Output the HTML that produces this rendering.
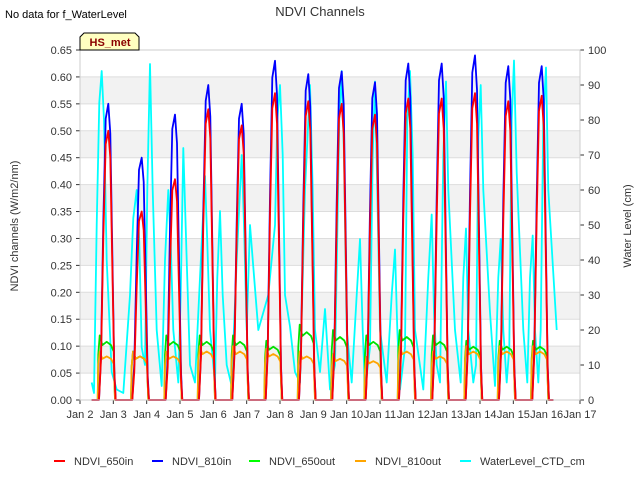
<!DOCTYPE html>
<html><head><meta charset="utf-8"><style>
body{margin:0;background:#fff;font-family:"Liberation Sans",sans-serif}
svg text{font-family:"Liberation Sans",sans-serif}
</style></head><body>
<svg id="c" width="640" height="480" xmlns="http://www.w3.org/2000/svg">
<rect width="640" height="480" fill="#fff"/>
<g id="bands"></g>
<g id="grid"></g>
<g id="series"></g>
<g id="axes"></g>
<text x="320" y="16" text-anchor="middle" font-size="13" fill="#333">NDVI Channels</text>
<text x="5" y="18" font-size="11" fill="#000">No data for f_WaterLevel</text>
<g>
<path d="M80,50 L80,37 L84,33 L135,33 L139,37 L139,50 Z" fill="#ffffc0" stroke="#000" stroke-width="1"/>
<text x="110" y="46" text-anchor="middle" font-size="11" font-weight="bold" fill="#8b0000">HS_met</text>
</g>
<text transform="translate(18,226) rotate(-90)" text-anchor="middle" font-size="11" fill="#333">NDVI channels (W/m2/nm)</text>
<text transform="translate(631,226) rotate(-90)" text-anchor="middle" font-size="11" fill="#333">Water Level (cm)</text>
<g id="legend"></g>
</svg>
<script>
const xTicks=["Jan 2","Jan 3","Jan 4","Jan 5","Jan 6","Jan 7","Jan 8","Jan 9","Jan 10","Jan 11","Jan 12","Jan 13","Jan 14","Jan 15","Jan 16","Jan 17"];
const yTicks=[0,0.05,0.1,0.15,0.2,0.25,0.3,0.35,0.4,0.45,0.5,0.55,0.6,0.65];
const y2Ticks=[0,10,20,30,40,50,60,70,80,90,100];
const peakDays=[2.85,3.85,4.85,5.85,6.85,7.85,8.85,9.85,10.85,11.85,12.85,13.85,14.85,15.85];
const peak810in=[0.55,0.45,0.53,0.585,0.55,0.63,0.605,0.61,0.59,0.625,0.625,0.64,0.62,0.62];
const peak650in=[0.50,0.35,0.41,0.54,0.51,0.57,0.555,0.55,0.53,0.56,0.56,0.57,0.555,0.565];
const peak650out=[0.12,0.09,0.12,0.12,0.12,0.11,0.14,0.13,0.12,0.13,0.12,0.11,0.11,0.11];
const peak810out=[0.09,0.09,0.09,0.10,0.10,0.095,0.09,0.085,0.08,0.10,0.09,0.10,0.10,0.10];
const wlDays=[2.35,2.42,2.5,2.58,2.65,2.72,2.8,2.95,3.1,3.3,3.5,3.6,3.7,3.78,3.85,3.95,4.02,4.1,4.18,4.3,4.45,4.55,4.65,4.72,4.8,4.95,5.02,5.1,5.2,5.3,5.45,5.6,5.75,5.82,5.9,6.05,6.12,6.2,6.28,6.4,6.55,6.7,6.85,6.92,7.0,7.1,7.2,7.35,7.65,7.85,7.92,8.0,8.08,8.15,8.3,8.45,8.6,8.75,8.9,8.98,9.05,9.2,9.35,9.5,9.65,9.78,9.85,9.92,10.0,10.15,10.3,10.4,10.48,10.55,10.7,10.78,10.85,10.92,11.0,11.2,11.35,11.45,11.52,11.6,11.75,11.82,11.9,11.98,12.05,12.3,12.45,12.55,12.62,12.7,12.8,12.9,12.98,13.05,13.25,13.42,13.5,13.58,13.65,13.8,13.88,13.95,14.02,14.1,14.3,14.45,14.55,14.62,14.7,14.8,14.88,14.95,15.02,15.1,15.3,15.42,15.5,15.58,15.65,15.75,15.82,15.9,15.98,16.05,16.3];
const wlVals=[5,2,50,85,94,80,40,8,3,2,30,52,60,45,15,10,60,96,60,20,4,40,60,45,20,5,30,72,40,10,5,35,64,45,20,5,35,54,30,10,4,40,70,50,20,50,38,20,30,50,80,90,70,30,21,8,5,60,90,60,20,8,26,3,10,80,94,70,20,5,30,46,20,3,15,70,91,60,20,5,30,43,20,3,15,80,94,70,20,3,35,53,25,10,5,70,91,60,20,5,35,49,20,5,10,75,90,60,25,4,35,46,20,5,15,80,97,65,20,5,35,47,20,5,20,80,95,60,20,4];
const X0=80,X1=580,Y0=400,Y1=50;
const xs=d=>X0+(d-2)/15*(X1-X0);
const ys=v=>Y0-v/0.65*(Y0-Y1);
const y2s=v=>Y0-v/100*(Y0-Y1);
const NS="http://www.w3.org/2000/svg";
function mk(t,a,p){const e=document.createElementNS(NS,t);for(const k in a)e.setAttribute(k,a[k]);p.appendChild(e);return e;}
const bands=document.getElementById('bands'),grid=document.getElementById('grid'),axes=document.getElementById('axes'),ser=document.getElementById('series'),leg=document.getElementById('legend');
for(let i=1;i<13;i+=2){const r=mk('rect',{x:X0,y:ys(yTicks[i+1]),width:X1-X0,height:ys(yTicks[i])-ys(yTicks[i+1]),fill:'#f2f2f2'},bands);

}
yTicks.forEach(v=>{const l=mk('line',{x1:X0,x2:X1,y1:ys(v),y2:ys(v),stroke:'#ddd','stroke-width':1},grid);


const t=mk('text',{x:X0-8,y:ys(v)+4,'text-anchor':'end','font-size':11,fill:'#333'},axes);t.textContent=v.toFixed(2);


mk('line',{x1:X0-4,x2:X0,y1:ys(v),y2:ys(v),stroke:'#333'},axes);});
y2Ticks.forEach(v=>{const t=mk('text',{x:X1+8,y:y2s(v)+4,'font-size':11,fill:'#333'},axes);t.textContent=v;


mk('line',{x1:X1,x2:X1+4,y1:y2s(v),y2:y2s(v),stroke:'#333'},axes);});
xTicks.forEach((s,i)=>{const x=xs(2+i);mk('line',{x1:x,x2:x,y1:Y0,y2:Y0+4,stroke:'#333'},axes);
const t=mk('text',{x:x,y:Y0+18,'text-anchor':'middle','font-size':11,fill:'#333'},axes);t.textContent=s;

});
mk('rect',{x:X0,y:Y1,width:X1-X0,height:Y0-Y1,fill:'none',stroke:'#ccc'},axes);
const inShape=[[-0.28,0],[-0.22,0.15],[-0.15,0.6],[-0.08,0.95],[0,1],[0.06,0.9],[0.12,0.5],[0.18,0.1],[0.22,0]];
const outShape=[[-0.32,0],[-0.3,0.7],[-0.26,1],[-0.18,0.85],[-0.05,0.9],[0.08,0.85],[0.16,0.75],[0.2,0]];
function ndviPath(peaks,shape){let p=`M${xs(2.35)},${ys(0)}`;peakDays.forEach((d,i)=>{shape.forEach(([o,f])=>{p+=` L${xs(d+o).toFixed(1)},${ys(peaks[i]*f).toFixed(1)}`;});});p+=` L${xs(16.2)},${ys(0)}`;return p;}
function addPath(d,col,name){const e=mk('path',{d:d,fill:'none',stroke:col,'stroke-width':1.8,'stroke-linejoin':'round'},ser);

}
let wp='';wlDays.forEach((d,i)=>{wp+=(i?' L':'M')+xs(d).toFixed(1)+','+y2s(wlVals[i]).toFixed(1);});
addPath(wp,'#00ffff','waterlevel-line');
addPath(ndviPath(peak650out,outShape),'#00e000','ndvi-650out-line');
addPath(ndviPath(peak810out,outShape),'#ffa500','ndvi-810out-line');
addPath(ndviPath(peak810in,inShape),'#0000ff','ndvi-810in-line');
addPath(ndviPath(peak650in,inShape),'#ff0000','ndvi-650in-line');
const legItems=[["NDVI_650in","#ff0000",54],["NDVI_810in","#0000ff",152],["NDVI_650out","#00ff00",249],["NDVI_810out","#ffa500",355],["WaterLevel_CTD_cm","#00ffff",460]];
legItems.forEach(([n,c,x])=>{const g=mk('g',{},leg);


mk('line',{x1:x,x2:x+11,y1:461,y2:461,stroke:c,'stroke-width':2},g);
const t=mk('text',{x:x+20,y:465,'font-size':11,fill:'#333'},g);t.textContent=n;});
</script>
</body></html>
